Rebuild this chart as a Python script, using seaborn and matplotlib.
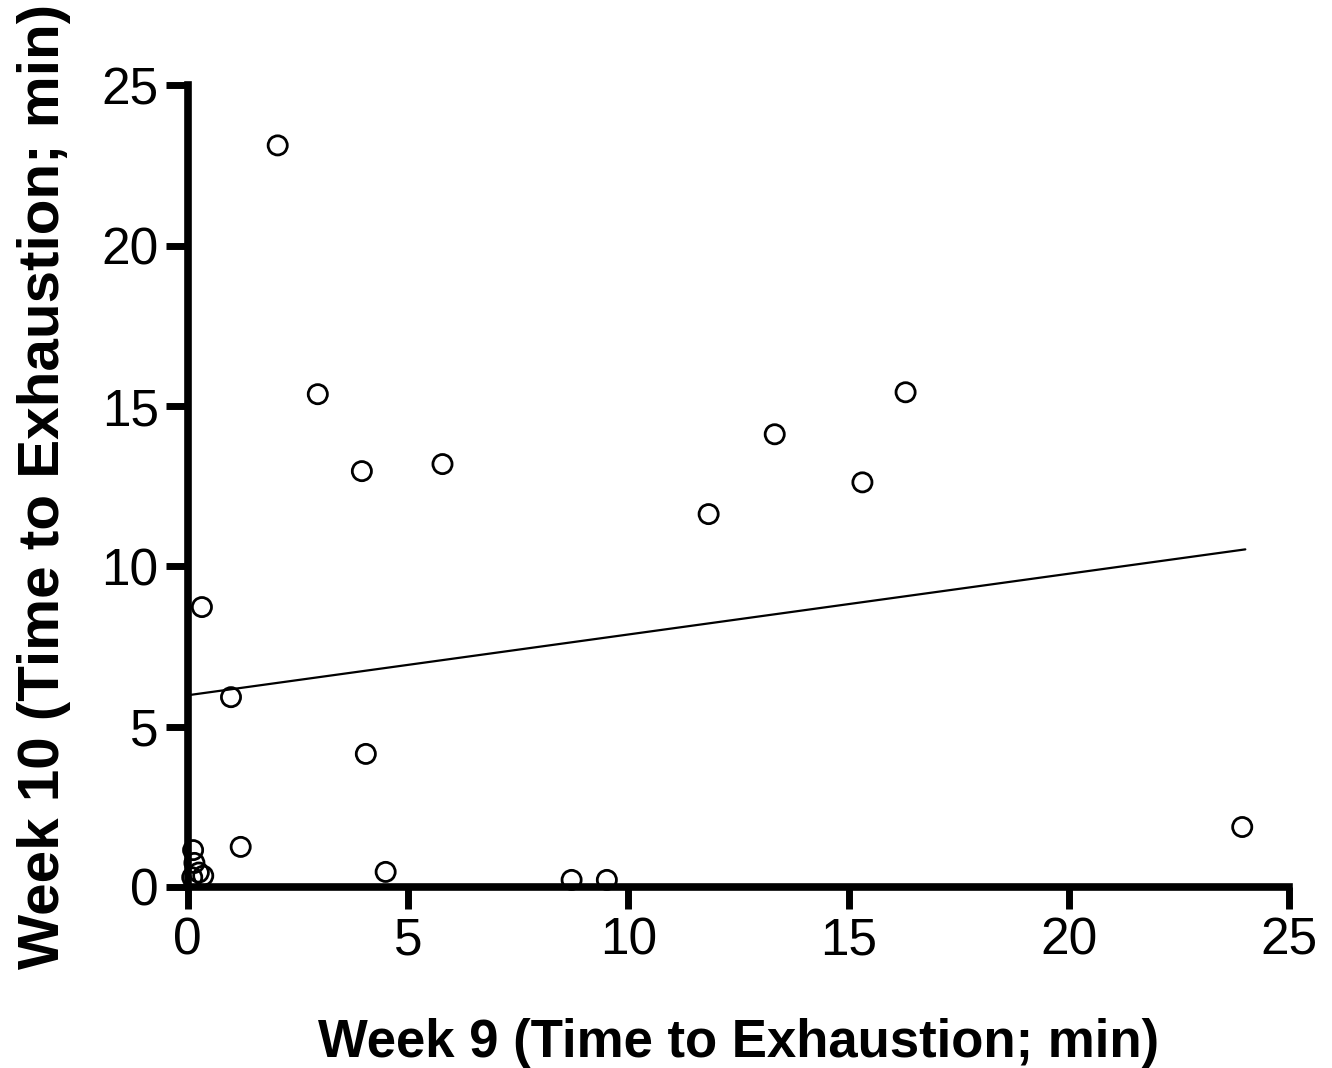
import numpy as np
import pandas as pd
import seaborn as sns
import matplotlib
matplotlib.use("Agg")
import matplotlib.pyplot as plt

# Data
week9 = [2.04, 2.95, 3.95, 5.78, 0.32, 0.98, 4.04, 1.20, 4.49, 8.71, 9.51,
         11.82, 13.32, 15.31, 16.29, 23.93, 0.12, 0.15, 0.25, 0.35, 0.10]
week10 = [23.13, 15.37, 12.97, 13.19, 8.73, 5.92, 4.15, 1.25, 0.47, 0.22, 0.22,
          11.63, 14.12, 12.62, 15.43, 1.87, 1.15, 0.75, 0.45, 0.35, 0.30]
fit_x = [0.0, 24.0]
fit_y = [5.98, 10.53]
ticks = [0, 5, 10, 15, 20, 25]

df = pd.DataFrame({"w9": week9, "w10": week10})
fit = pd.DataFrame({"x": fit_x, "y": fit_y})

sns.set_theme(style="ticks")
plt.rcParams['font.family'] = ['Liberation Sans', 'DejaVu Sans']

fig = plt.figure(figsize=(13.32, 10.68), dpi=100)
ax = fig.add_axes([0.141, 0.1695, 0.827, 0.7505])

sns.lineplot(data=fit, x="x", y="y", ax=ax, color="black", linewidth=1.6)
sns.scatterplot(data=df, x="w9", y="w10", ax=ax, s=190, facecolor="none",
                edgecolor="black", linewidth=2.0, zorder=5, clip_on=False)

ax.set_xlim(0, 25)
ax.set_ylim(0, 25)
ax.set_xticks(ticks)
ax.set_yticks(ticks)
ax.set_xticklabels([str(t) for t in ticks])
ax.set_yticklabels([str(t) for t in ticks])
for s in ["top", "right"]:
    ax.spines[s].set_visible(False)
for s in ["left", "bottom"]:
    ax.spines[s].set_linewidth(5.5)
    ax.spines[s].set_color("black")
ax.tick_params(axis="both", length=16, width=5, color="black",
               labelsize=37, pad=5, labelcolor="black")

ax.set_xlabel("Week 9 (Time to Exhaustion; min)", labelpad=38,
              family=['Liberation Sans', 'DejaVu Sans'], fontweight="bold",
              fontsize=38, color="black")
ax.set_ylabel("Week 10 (Time to Exhaustion; min)", labelpad=22,
              family=['Liberation Sans', 'DejaVu Sans'], fontweight="bold",
              fontsize=42, color="black")

fig.savefig("out.png", dpi=100, facecolor="white")
